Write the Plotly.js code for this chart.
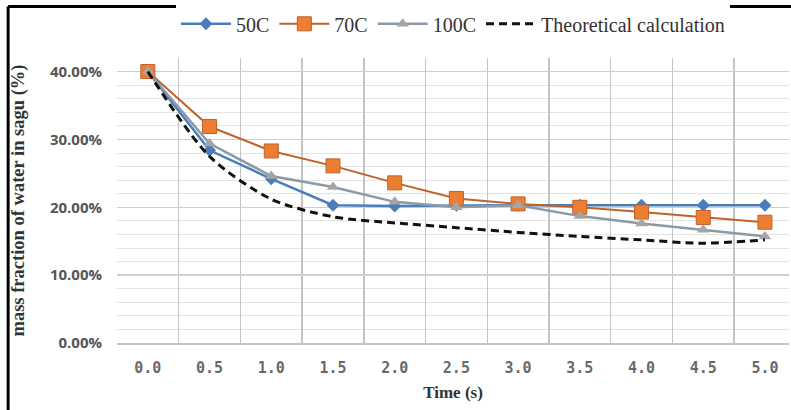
<!DOCTYPE html>
<html>
<head>
<meta charset="utf-8">
<script src="https://cdn.plot.ly/plotly-3.0.1.min.js"></script>
<style>html,body{margin:0;padding:0;background:#fff;}#chart{width:791px;height:410px;}</style>
</head>
<body>
<div id="chart"></div>
<script>
// Data
const timeLabels = ['0.0','0.5','1.0','1.5','2.0','2.5','3.0','3.5','4.0','4.5','5.0'];
const series50C  = [0.400, 0.284, 0.242, 0.203, 0.202, 0.203, 0.203, 0.203, 0.203, 0.203, 0.203];
const series70C  = [0.400, 0.319, 0.283, 0.261, 0.236, 0.213, 0.205, 0.200, 0.193, 0.185, 0.178];
const series100C = [0.400, 0.294, 0.246, 0.230, 0.208, 0.200, 0.203, 0.187, 0.176, 0.167, 0.157];
const theoretical = [0.400, 0.275, 0.212, 0.186, 0.177, 0.170, 0.163, 0.157, 0.152, 0.147, 0.152];
const seriesNames = ['50C', '70C', '100C', 'Theoretical calculation'];

const traces = [
  {x: timeLabels, y: series50C, name: seriesNames[0], type: 'scatter', mode: 'lines+markers',
   line: {color: '#4a7ebb', width: 2.5}, marker: {symbol: 'diamond', size: 10, color: '#4a7ebb'}},
  {x: timeLabels, y: series70C, name: seriesNames[1], type: 'scatter', mode: 'lines+markers',
   line: {color: '#c0622a', width: 2}, marker: {symbol: 'square', size: 14, color: '#ed7d31', line: {color: '#c0622a', width: 1}}},
  {x: timeLabels, y: series100C, name: seriesNames[2], type: 'scatter', mode: 'lines+markers',
   line: {color: '#8c99a6', width: 2.5}, marker: {symbol: 'triangle-up', size: 11, color: '#a5a5a5'}},
  {x: timeLabels, y: theoretical, name: seriesNames[3], type: 'scatter', mode: 'lines',
   line: {color: '#111111', width: 3, dash: '8px,5px', shape: 'spline', smoothing: 0.8}}
];

const layout = {
  width: 791, height: 410,
  margin: {l: 117, r: 2, t: 58, b: 67},
  paper_bgcolor: '#ffffff', plot_bgcolor: '#ffffff',
  showlegend: true,
  legend: {orientation: 'h', x: 0.5, xanchor: 'center', y: 1.12, yanchor: 'middle',
           font: {family: 'Liberation Serif, serif', size: 20, color: '#333333'}, itemwidth: 50,
           traceorder: 'normal'},
  xaxis: {
    type: 'category', range: [-0.5, 10.39], tickson: 'boundaries', ticks: '',
    showgrid: true, gridcolor: '#c4c4c4', gridwidth: 1.5,
    showline: true, linecolor: '#c4c4c4', linewidth: 1.5,
    ticklabelstandoff: 10,
    tickfont: {family: 'DejaVu Sans Mono, monospace', size: 15, color: '#6a6a6a', weight: 'bold'},
    title: {text: '<b>Time (s)</b>', font: {family: 'Liberation Serif, serif', size: 17, color: '#333333'}, standoff: 10},
    fixedrange: true
  },
  yaxis: {
    range: [0, 0.42], tickvals: [0, 0.1, 0.2, 0.3, 0.4], tickformat: '.2%',
    showgrid: true, gridcolor: '#cfcfcf', gridwidth: 1.5, zeroline: false, showline: false, ticks: '',
    minor: {dtick: 0.02, tick0: 0, showgrid: true, gridcolor: '#e4e4e4', gridwidth: 1},
    ticklabelstandoff: 14,
    tickfont: {family: 'Open Sans, sans-serif', size: 15, color: '#555555', weight: 'bold'},
    title: {text: '<b>mass fraction of water in sagu (%)</b>', font: {family: 'Liberation Serif, serif', size: 18.5, color: '#333333'}, standoff: 20},
    fixedrange: true
  },
  shapes: [
    {type: 'line', xref: 'paper', yref: 'paper', x0: -0.162, x1: 1.01, y0: 1.181, y1: 1.181, line: {color: '#000', width: 3}},
    {type: 'line', xref: 'paper', yref: 'paper', x0: -0.162, x1: -0.162, y0: 1.181, y1: -0.25, line: {color: '#000', width: 3}}
  ]
};

Plotly.newPlot('chart', traces, layout, {displayModeBar: false, staticPlot: true});
</script>
</body>
</html>
